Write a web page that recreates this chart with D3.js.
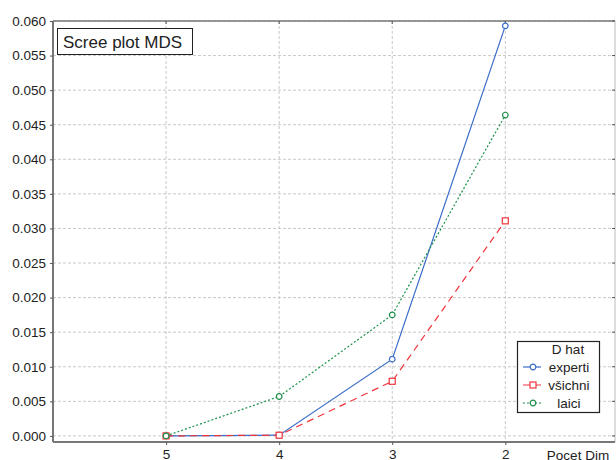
<!DOCTYPE html>
<html>
<head>
<meta charset="utf-8">
<style>
    body { margin: 0; background: #fff; }
    text { font-family: "Liberation Sans", Arial, sans-serif; fill: #222; }
    .grid line { stroke: #c8c8c8; stroke-dasharray: 3,2; stroke-width: 1; }
</style>
</head>
<body>
<script src="https://cdn.jsdelivr.net/npm/d3@7"></script>
<script>
// data
var dims = [5, 4, 3, 2];
var experti = [0.0000, 0.0001, 0.0111, 0.0593];
var vsichni = [0.0000, 0.0001, 0.0079, 0.0311];
var laici = [0.0000, 0.0057, 0.0175, 0.0464];
var yTicks = [0, 0.005, 0.01, 0.015, 0.02, 0.025, 0.03, 0.035, 0.04, 0.045, 0.05, 0.055, 0.06];
var seriesNames = ["experti", "všichni", "laici"];

var width = 616, height = 460;
var pLeft = 53, pRight = 615, pTop = 21, pBottom = 442;

var svg = d3.select("body").append("svg")
    .attr("width", width)
    .attr("height", height);

var x = d3.scaleLinear().domain([6, 1.03]).range([pLeft, pRight]);
var y = d3.scaleLinear().domain([-0.00088, 0.060]).range([pBottom, pTop]);

// grid
var grid = svg.append("g").attr("class", "grid");
grid.selectAll(".h").data(yTicks).enter().append("line")
    .attr("x1", pLeft).attr("x2", pRight)
    .attr("y1", function(d) { return y(d); })
    .attr("y2", function(d) { return y(d); });
grid.selectAll(".v").data(dims).enter().append("line")
    .attr("y1", pTop).attr("y2", pBottom)
    .attr("x1", function(d) { return x(d); })
    .attr("x2", function(d) { return x(d); });

// frame
svg.append("line").attr("x1", pLeft).attr("x2", pRight).attr("y1", pTop).attr("y2", pTop)
    .attr("stroke", "#777").attr("stroke-width", 1.5);
svg.append("line").attr("x1", pRight).attr("x2", pRight).attr("y1", pTop).attr("y2", pBottom)
    .attr("stroke", "#bbb").attr("stroke-width", 1);

// axes
var yAxis = d3.axisLeft(y).tickValues(yTicks).tickSize(3).tickPadding(4)
    .tickFormat(d3.format(".3f"));
var gy = svg.append("g").attr("transform", "translate(" + pLeft + ",0)").call(yAxis);
gy.select(".domain").attr("stroke", "#777").attr("stroke-width", 2)
    .attr("d", "M0," + pTop + "V" + pBottom);
gy.selectAll(".tick line").attr("stroke", "#555");
gy.selectAll("text").attr("font-size", 13.5).attr("fill", "#222")
    .style("font-family", "Liberation Sans, Arial, sans-serif");

var xAxis = d3.axisBottom(x).tickValues(dims).tickSize(3).tickPadding(4)
    .tickFormat(d3.format("d"));
var gx = svg.append("g").attr("transform", "translate(0," + pBottom + ")").call(xAxis);
gx.select(".domain").attr("stroke", "#777").attr("stroke-width", 2)
    .attr("d", "M" + pLeft + ",0H" + pRight);
gx.selectAll(".tick line").attr("stroke", "#555");
gx.selectAll("text").attr("font-size", 13.5).attr("fill", "#222")
    .style("font-family", "Liberation Sans, Arial, sans-serif");

// inner ticks on the right edge
svg.append("g").selectAll("line").data(yTicks).enter().append("line")
    .attr("x1", pRight - 3).attr("x2", pRight)
    .attr("y1", function(d) { return y(d); })
    .attr("y2", function(d) { return y(d); })
    .attr("stroke", "#555");
// ticks on top
svg.append("g").selectAll("line").data(dims).enter().append("line")
    .attr("x1", function(d) { return x(d); })
    .attr("x2", function(d) { return x(d); })
    .attr("y1", pTop).attr("y2", pTop + 3)
    .attr("stroke", "#555");

svg.append("text").attr("x", 578).attr("y", 460)
    .attr("text-anchor", "middle").attr("font-size", 13.5).text("Pocet Dim");

// series
var series = [
    { name: seriesNames[0], values: experti, color: "#3a6cc8", dash: null, marker: "circle" },
    { name: seriesNames[1], values: vsichni, color: "#f0343c", dash: "7,5", marker: "square" },
    { name: seriesNames[2], values: laici, color: "#1b9048", dash: "2,2", marker: "diamond" }
];

var line = d3.line()
    .x(function(d, i) { return x(dims[i]); })
    .y(function(d) { return y(d); });

function drawMarker(g, type, color) {
    if (type == "square") {
        g.append("rect").attr("x", -3).attr("y", -3).attr("width", 6).attr("height", 6)
            .attr("fill", "#fff").attr("stroke", color).attr("stroke-width", 1.2);
    } else {
        g.append("circle").attr("r", 2.8)
            .attr("fill", "#fff").attr("stroke", color).attr("stroke-width", 1.2);
    }
}

series.forEach(function(s) {
    svg.append("path")
        .attr("d", line(s.values))
        .attr("fill", "none")
        .attr("stroke", s.color)
        .attr("stroke-width", 1.2)
        .attr("stroke-dasharray", s.dash);
});
series.forEach(function(s) {
    s.values.forEach(function(v, i) {
        var g = svg.append("g")
            .attr("transform", "translate(" + x(dims[i]) + "," + y(v) + ")");
        drawMarker(g, s.marker, s.color);
    });
});

// title box
svg.append("rect").attr("x", 57.5).attr("y", 28.5).attr("width", 135).attr("height", 26)
    .attr("fill", "#fff").attr("stroke", "#222").attr("stroke-width", 1);
svg.append("text").attr("x", 63).attr("y", 48).attr("font-size", 17).text("Scree plot MDS");

// legend
var lg = svg.append("g").attr("transform", "translate(517,341)");
lg.append("rect").attr("x", 0.5).attr("y", 0.5).attr("width", 82).attr("height", 71)
    .attr("fill", "#fff").attr("stroke", "#222").attr("stroke-width", 1.2);
lg.append("text").attr("x", 51).attr("y", 13).attr("text-anchor", "middle")
    .attr("font-size", 13.5).text("D hat");
series.forEach(function(s, i) {
    var yy = 26 + i * 18;
    lg.append("line").attr("x1", 6).attr("x2", 24).attr("y1", yy).attr("y2", yy)
        .attr("stroke", s.color).attr("stroke-width", 1.2)
        .attr("stroke-dasharray", s.dash);
    var m = lg.append("g").attr("transform", "translate(16," + yy + ")");
    drawMarker(m, s.marker, s.color);
    lg.append("text").attr("x", 52).attr("y", yy + 5).attr("text-anchor", "middle")
        .attr("font-size", 13.5).text(s.name);
});
</script>
</body>
</html>
